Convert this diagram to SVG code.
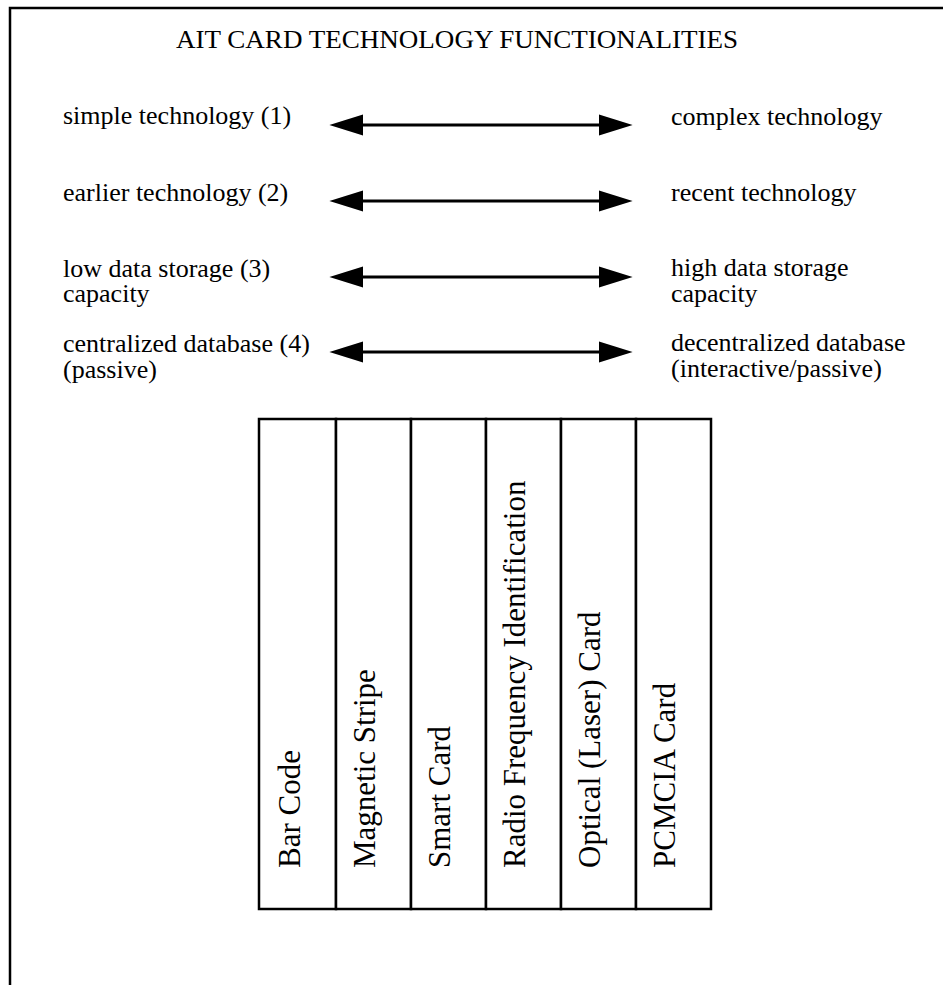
<svg xmlns="http://www.w3.org/2000/svg" width="943" height="985" viewBox="0 0 943 985">
<style>
  text { font-family: "Liberation Serif", "Times New Roman", serif; fill: #000; }
  .title { font-size: 26px; }
  .lbl { font-size: 26px; }
  .col { font-size: 31px; }
  .frame { stroke: #000; stroke-width: 2.5; fill: none; }
  .cell { stroke: #000; stroke-width: 2.5; fill: #fff; }
  .conn { stroke: #000; stroke-width: 3; fill: none; marker-start: url(#head); marker-end: url(#head); }
</style>
<defs>
  <marker id="head" markerUnits="userSpaceOnUse" markerWidth="34" markerHeight="22" viewBox="0 0 32 20" refX="22" refY="10" orient="auto-start-reverse">
    <path d="M0,0 L32,10 L0,20 z" fill="#000"/>
  </marker>
</defs>
<rect width="943" height="985" fill="#fff"/>
<g id="frame">
  <path class="frame" d="M10,985 L10,8 L943,8"/>
</g>
<g id="title">
  <text class="title" x="176" y="48" textLength="562" lengthAdjust="spacingAndGlyphs">AIT CARD TECHNOLOGY FUNCTIONALITIES</text>
</g>
<g id="row1-left"><text class="lbl" x="63" y="124">simple technology (1)</text></g>
<g id="row1-right"><text class="lbl" x="671" y="125">complex technology</text></g>
<g id="row2-left"><text class="lbl" x="63" y="201">earlier technology (2)</text></g>
<g id="row2-right"><text class="lbl" x="671" y="201">recent technology</text></g>
<g id="row3-left"><text class="lbl" x="63" y="277">low data storage (3)</text><text class="lbl" x="63" y="302">capacity</text></g>
<g id="row3-right"><text class="lbl" x="671" y="276">high data storage</text><text class="lbl" x="671" y="302">capacity</text></g>
<g id="row4-left"><text class="lbl" x="63" y="352">centralized database (4)</text><text class="lbl" x="63" y="378">(passive)</text></g>
<g id="row4-right"><text class="lbl" x="671" y="351">decentralized database</text><text class="lbl" x="671" y="377">(interactive/passive)</text></g>
<g id="connectors">
  <line class="conn" x1="340" y1="125" x2="622" y2="125"/>
  <line class="conn" x1="340" y1="201" x2="622" y2="201"/>
  <line class="conn" x1="340" y1="277" x2="622" y2="277"/>
  <line class="conn" x1="340" y1="352" x2="622" y2="352"/>
</g>
<g id="col-barcode"><rect class="cell" x="259" y="419" width="77" height="490"/><text class="col" transform="translate(300,868) rotate(-90)">Bar Code</text></g>
<g id="col-magnetic"><rect class="cell" x="336" y="419" width="75" height="490"/><text class="col" transform="translate(375,868) rotate(-90)">Magnetic Stripe</text></g>
<g id="col-smart"><rect class="cell" x="411" y="419" width="75" height="490"/><text class="col" transform="translate(450,868) rotate(-90)">Smart Card</text></g>
<g id="col-rfid"><rect class="cell" x="486" y="419" width="75" height="490"/><text class="col" transform="translate(525,868) rotate(-90)">Radio Frequency Identification</text></g>
<g id="col-optical"><rect class="cell" x="561" y="419" width="75" height="490"/><text class="col" transform="translate(600,868) rotate(-90)">Optical (Laser) Card</text></g>
<g id="col-pcmcia"><rect class="cell" x="636" y="419" width="75" height="490"/><text class="col" transform="translate(675,868) rotate(-90)">PCMCIA Card</text></g>
</svg>
